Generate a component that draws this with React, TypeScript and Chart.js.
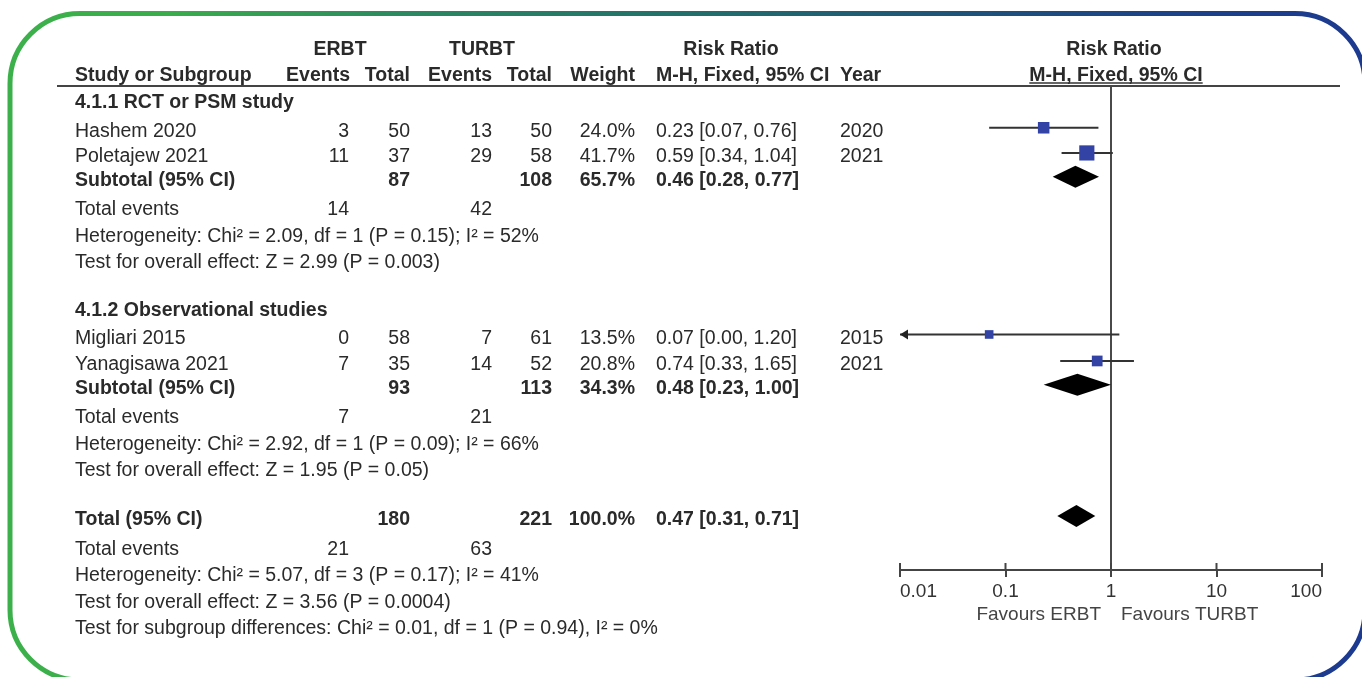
import React, { useEffect, useRef } from "react";
import { Chart, registerables } from "chart.js";

Chart.register(...registerables);

// ---------------- data ----------------
const STUDY_NAMES = ["Hashem 2020", "Poletajew 2021", "Migliari 2015", "Yanagisawa 2021"];
const ERBT_EVENTS = [3, 11, 0, 7];
const ERBT_TOTAL = [50, 37, 58, 35];
const TURBT_EVENTS = [13, 29, 7, 14];
const TURBT_TOTAL = [50, 58, 61, 52];
const WEIGHTS = [24.0, 41.7, 13.5, 20.8];
const RR = [0.23, 0.59, 0.07, 0.74];
const CI_LOW = [0.07, 0.34, 0.0, 0.33];
const CI_HIGH = [0.76, 1.04, 1.2, 1.65];
const YEARS = [2020, 2021, 2015, 2021];

const GROUP_TITLES = ["4.1.1 RCT or PSM study", "4.1.2 Observational studies"];
const SUB_ERBT_TOTAL = [87, 93];
const SUB_TURBT_TOTAL = [108, 113];
const SUB_WEIGHT = [65.7, 34.3];
const SUB_RR = [0.46, 0.48];
const SUB_LOW = [0.28, 0.23];
const SUB_HIGH = [0.77, 1.0];
const SUB_ERBT_EVENTS = [14, 7];
const SUB_TURBT_EVENTS = [42, 21];
const SUB_HETEROGENEITY = [
  "Heterogeneity: Chi² = 2.09, df = 1 (P = 0.15); I² = 52%",
  "Heterogeneity: Chi² = 2.92, df = 1 (P = 0.09); I² = 66%",
];
const SUB_OVERALL = [
  "Test for overall effect: Z = 2.99 (P = 0.003)",
  "Test for overall effect: Z = 1.95 (P = 0.05)",
];

const TOTAL_ERBT_TOTAL = 180;
const TOTAL_TURBT_TOTAL = 221;
const TOTAL_WEIGHT = 100.0;
const TOTAL_RR = 0.47;
const TOTAL_LOW = 0.31;
const TOTAL_HIGH = 0.71;
const TOTAL_ERBT_EVENTS = 21;
const TOTAL_TURBT_EVENTS = 63;
const TOTAL_HETEROGENEITY = "Heterogeneity: Chi² = 5.07, df = 3 (P = 0.17); I² = 41%";
const TOTAL_OVERALL = "Test for overall effect: Z = 3.56 (P = 0.0004)";
const SUBGROUP_TEST = "Test for subgroup differences: Chi² = 0.01, df = 1 (P = 0.94), I² = 0%";

const X_TICKS = [0.01, 0.1, 1, 10, 100];
const FAVOURS_LEFT = "Favours ERBT";
const FAVOURS_RIGHT = "Favours TURBT";

// ---------------- layout (row positions, in row units) ----------------
const ROW_HEAD1 = -2.0;
const ROW_HEAD2 = -1.02;
const ROW_GROUP_TITLE = [0, 7.85];
const ROW_STUDY = [1.1, 2.05, 8.9, 9.9];
const ROW_SUBTOTAL = [2.95, 10.8];
const ROW_SUB_EVENTS = [4.05, 11.9];
const ROW_SUB_HET = [5.05, 12.9];
const ROW_SUB_TEST = [6.05, 13.9];
const ROW_TOTAL = 15.75;
const ROW_TOTAL_EVENTS = 16.85;
const ROW_TOTAL_HET = 17.85;
const ROW_TOTAL_TEST = 18.85;
const ROW_SUBGROUP = 19.85;
const MARK_DY = -0.09;

const FONT = '"Liberation Sans", Arial, sans-serif';
const FS = 19.5;
const TXT = "#2a2a2a";

const COL_NAME = 75;
const COL_E1 = 349;
const COL_T1 = 410;
const COL_E2 = 492;
const COL_T2 = 552;
const COL_W = 635;
const COL_RR = 656;
const COL_YEAR = 840;

const fmtRR = (r: number, l: number, h: number) =>
  `${r.toFixed(2)} [${l.toFixed(2)}, ${h.toFixed(2)}]`;
const fmtW = (w: number) => `${w.toFixed(1)}%`;

const forestPlugin = {
  id: "forest",
  beforeDatasetsDraw(chart: any) {
    const { ctx, chartArea, scales } = chart;
    const x = scales.x;
    const y = scales.y;
    const xmin = x.min;
    const X = (v: number) => x.getPixelForValue(Math.max(v, xmin));
    ctx.save();
    // line of no effect
    const x1 = x.getPixelForValue(1);
    ctx.strokeStyle = "#4a4a4a";
    ctx.lineWidth = 2;
    ctx.beginPath();
    ctx.moveTo(x1, chartArea.top);
    ctx.lineTo(x1, chartArea.bottom);
    ctx.stroke();
    // confidence intervals
    ctx.strokeStyle = "#333";
    ctx.fillStyle = "#222";
    ctx.lineWidth = 2;
    for (let i = 0; i < RR.length; i++) {
      const yy = y.getPixelForValue(ROW_STUDY[i] + MARK_DY);
      const a = X(CI_LOW[i]);
      const b = X(CI_HIGH[i]);
      ctx.beginPath();
      ctx.moveTo(a, yy);
      ctx.lineTo(b, yy);
      ctx.stroke();
      if (CI_LOW[i] < xmin) {
        ctx.beginPath();
        ctx.moveTo(a, yy);
        ctx.lineTo(a + 8, yy - 5);
        ctx.lineTo(a + 8, yy + 5);
        ctx.closePath();
        ctx.fill();
      }
    }
    // diamonds
    const diamond = (row: number, r: number, l: number, h: number) => {
      const yy = y.getPixelForValue(row + MARK_DY);
      const hh = 11;
      ctx.beginPath();
      ctx.moveTo(X(l), yy);
      ctx.lineTo(X(r), yy - hh);
      ctx.lineTo(X(h), yy);
      ctx.lineTo(X(r), yy + hh);
      ctx.closePath();
      ctx.fillStyle = "#000";
      ctx.fill();
    };
    for (let g = 0; g < SUB_RR.length; g++) diamond(ROW_SUBTOTAL[g], SUB_RR[g], SUB_LOW[g], SUB_HIGH[g]);
    diamond(ROW_TOTAL, TOTAL_RR, TOTAL_LOW, TOTAL_HIGH);
    ctx.restore();
  },
  afterDraw(chart: any) {
    const { ctx, chartArea, scales, width, height } = chart;
    const x = scales.x;
    const y = scales.y;
    const x1 = x.getPixelForValue(1);
    ctx.save();

    // upper halves of tick marks
    ctx.strokeStyle = "#444";
    ctx.lineWidth = 2;
    for (const t of x.ticks) {
      const px = x.getPixelForValue(t.value);
      ctx.beginPath();
      ctx.moveTo(px, chartArea.bottom - 7);
      ctx.lineTo(px, chartArea.bottom);
      ctx.stroke();
    }

    // header rule
    ctx.strokeStyle = "#444";
    ctx.lineWidth = 2;
    ctx.beginPath();
    ctx.moveTo(57, chartArea.top);
    ctx.lineTo(1340, chartArea.top);
    ctx.stroke();

    const text = (s: string, px: number, row: number, align: CanvasTextAlign, bold: boolean, color = TXT) => {
      ctx.font = `${bold ? "bold " : ""}${FS}px ${FONT}`;
      ctx.fillStyle = color;
      ctx.textAlign = align;
      ctx.textBaseline = "alphabetic";
      ctx.fillText(s, px, y.getPixelForValue(row) + 7);
    };

    // headers
    text("ERBT", 340, ROW_HEAD1, "center", true);
    text("TURBT", 482, ROW_HEAD1, "center", true);
    text("Risk Ratio", 731, ROW_HEAD1, "center", true);
    text("Risk Ratio", x1 + 3, ROW_HEAD1, "center", true);
    text("Study or Subgroup", COL_NAME, ROW_HEAD2, "left", true);
    text("Events", COL_E1 + 1, ROW_HEAD2, "right", true);
    text("Total", COL_T1, ROW_HEAD2, "right", true);
    text("Events", COL_E2, ROW_HEAD2, "right", true);
    text("Total", COL_T2, ROW_HEAD2, "right", true);
    text("Weight", COL_W, ROW_HEAD2, "right", true);
    text("M-H, Fixed, 95% CI", COL_RR, ROW_HEAD2, "left", true);
    text("Year", COL_YEAR, ROW_HEAD2, "left", true);
    text("M-H, Fixed, 95% CI", x1 + 5, ROW_HEAD2, "center", true);
    // underline for right header
    ctx.font = `bold ${FS}px ${FONT}`;
    const wHead = ctx.measureText("M-H, Fixed, 95% CI").width;
    const uy = y.getPixelForValue(ROW_HEAD2) + 9;
    ctx.strokeStyle = "#333";
    ctx.lineWidth = 1.5;
    ctx.beginPath();
    ctx.moveTo(x1 + 5 - wHead / 2, uy);
    ctx.lineTo(x1 + 5 + wHead / 2, uy);
    ctx.stroke();

    // groups
    for (let g = 0; g < GROUP_TITLES.length; g++) {
      text(GROUP_TITLES[g], COL_NAME, ROW_GROUP_TITLE[g], "left", true);
      for (let i = 0; i < STUDY_NAMES.length; i++) {
        const inGroup = g === 0 ? i < 2 : i >= 2;
        if (!inGroup) continue;
        const r = ROW_STUDY[i];
        text(STUDY_NAMES[i], COL_NAME, r, "left", false);
        text(String(ERBT_EVENTS[i]), COL_E1, r, "right", false);
        text(String(ERBT_TOTAL[i]), COL_T1, r, "right", false);
        text(String(TURBT_EVENTS[i]), COL_E2, r, "right", false);
        text(String(TURBT_TOTAL[i]), COL_T2, r, "right", false);
        text(fmtW(WEIGHTS[i]), COL_W, r, "right", false);
        text(fmtRR(RR[i], CI_LOW[i], CI_HIGH[i]), COL_RR, r, "left", false);
        text(String(YEARS[i]), COL_YEAR, r, "left", false);
      }
      const rs = ROW_SUBTOTAL[g];
      text("Subtotal (95% CI)", COL_NAME, rs, "left", true);
      text(String(SUB_ERBT_TOTAL[g]), COL_T1, rs, "right", true);
      text(String(SUB_TURBT_TOTAL[g]), COL_T2, rs, "right", true);
      text(fmtW(SUB_WEIGHT[g]), COL_W, rs, "right", true);
      text(fmtRR(SUB_RR[g], SUB_LOW[g], SUB_HIGH[g]), COL_RR, rs, "left", true);
      text("Total events", COL_NAME, ROW_SUB_EVENTS[g], "left", false);
      text(String(SUB_ERBT_EVENTS[g]), COL_E1, ROW_SUB_EVENTS[g], "right", false);
      text(String(SUB_TURBT_EVENTS[g]), COL_E2, ROW_SUB_EVENTS[g], "right", false);
      text(SUB_HETEROGENEITY[g], COL_NAME, ROW_SUB_HET[g], "left", false);
      text(SUB_OVERALL[g], COL_NAME, ROW_SUB_TEST[g], "left", false);
    }

    // overall total
    text("Total (95% CI)", COL_NAME, ROW_TOTAL, "left", true);
    text(String(TOTAL_ERBT_TOTAL), COL_T1, ROW_TOTAL, "right", true);
    text(String(TOTAL_TURBT_TOTAL), COL_T2, ROW_TOTAL, "right", true);
    text(fmtW(TOTAL_WEIGHT), COL_W, ROW_TOTAL, "right", true);
    text(fmtRR(TOTAL_RR, TOTAL_LOW, TOTAL_HIGH), COL_RR, ROW_TOTAL, "left", true);
    text("Total events", COL_NAME, ROW_TOTAL_EVENTS, "left", false);
    text(String(TOTAL_ERBT_EVENTS), COL_E1, ROW_TOTAL_EVENTS, "right", false);
    text(String(TOTAL_TURBT_EVENTS), COL_E2, ROW_TOTAL_EVENTS, "right", false);
    text(TOTAL_HETEROGENEITY, COL_NAME, ROW_TOTAL_HET, "left", false);
    text(TOTAL_OVERALL, COL_NAME, ROW_TOTAL_TEST, "left", false);
    text(SUBGROUP_TEST, COL_NAME, ROW_SUBGROUP, "left", false);

    // favours labels
    ctx.font = `19px ${FONT}`;
    ctx.fillStyle = "#444";
    ctx.textBaseline = "alphabetic";
    ctx.textAlign = "right";
    ctx.fillText(FAVOURS_LEFT, x1 - 10, chartArea.bottom + 50);
    ctx.textAlign = "left";
    ctx.fillText(FAVOURS_RIGHT, x1 + 10, chartArea.bottom + 50);

    // decorative frame
    const grad = ctx.createLinearGradient(0, 0, width, 0);
    grad.addColorStop(0, "#3cb14a");
    grad.addColorStop(0.12, "#3aad4b");
    grad.addColorStop(0.3, "#2b8861");
    grad.addColorStop(0.5, "#22706b");
    grad.addColorStop(0.68, "#1f5677");
    grad.addColorStop(0.85, "#1c4388");
    grad.addColorStop(1, "#1c3a90");
    const L = 10, T = 13.5, R = width + 3, B = height + 3, rad = 70;
    ctx.strokeStyle = grad;
    ctx.lineWidth = 5;
    ctx.beginPath();
    ctx.moveTo(L + rad, T);
    ctx.lineTo(R - rad, T);
    ctx.arcTo(R, T, R, T + rad, rad);
    ctx.lineTo(R, B - rad);
    ctx.arcTo(R, B, R - rad, B, rad);
    ctx.lineTo(L + rad, B);
    ctx.arcTo(L, B, L, B - rad, rad);
    ctx.lineTo(L, T + rad);
    ctx.arcTo(L, T, L + rad, T, rad);
    ctx.closePath();
    ctx.stroke();

    ctx.restore();
  },
};

export default function App() {
  const ref = useRef<HTMLCanvasElement | null>(null);

  useEffect(() => {
    document.body.style.margin = "0";
    const canvas = ref.current;
    if (!canvas) return;
    const chart = new Chart(canvas, {
      type: "scatter",
      data: {
        datasets: [
          {
            data: RR.map((v, i) => ({ x: v, y: ROW_STUDY[i] + MARK_DY })),
            pointStyle: "rect",
            pointRadius: WEIGHTS.map((w) => (2.35 * Math.sqrt(w)) / Math.SQRT2),
            pointHoverRadius: WEIGHTS.map((w) => (2.35 * Math.sqrt(w)) / Math.SQRT2),
            backgroundColor: "#3343a5",
            borderWidth: 0,
          },
        ],
      },
      options: {
        animation: false,
        responsive: true,
        maintainAspectRatio: false,
        devicePixelRatio: 1,
        layout: { padding: { left: 900, right: 40, top: 86, bottom: 67 } },
        plugins: { legend: { display: false }, tooltip: { enabled: false } },
        events: [],
        scales: {
          x: {
            type: "logarithmic",
            min: 0.01,
            max: 100,
            position: "bottom",
            afterBuildTicks: (scale: any) => {
              scale.ticks = X_TICKS.map((v) => ({ value: v, major: true }));
            },
            afterFit: (scale: any) => {
              scale.height = 40;
            },
            ticks: {
              autoSkip: false,
              maxRotation: 0,
              align: "inner",
              padding: 3,
              color: "#333",
              font: { family: FONT, size: 19 },
              callback: (v: any) => String(v),
            },
            grid: {
              drawOnChartArea: false,
              drawTicks: true,
              tickLength: 7,
              color: "#444",
              lineWidth: 2,
            },
            border: { display: true, color: "#444", width: 2 },
          },
          y: {
            type: "linear",
            display: false,
            reverse: true,
            min: -0.566,
            max: 17.698,
          },
        },
      },
      plugins: [forestPlugin],
    });
    return () => chart.destroy();
  }, []);

  return (
    <div style={{ position: "relative", width: 1362, height: 677 }}>
      <canvas ref={ref} />
    </div>
  );
}
